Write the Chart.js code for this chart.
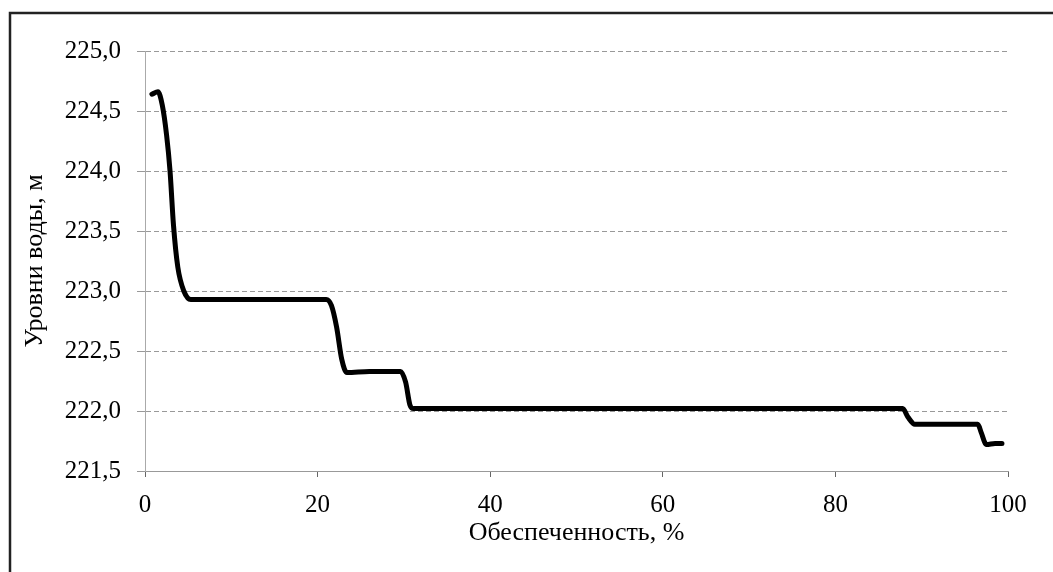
<!DOCTYPE html>
<html>
<head>
<meta charset="utf-8">
<script src="https://cdn.jsdelivr.net/npm/chart.js@4"></script>
<style>
  html, body { margin: 0; padding: 0; background: #fff; }
  #wrap { position: relative; width: 1053px; height: 572px; }
  canvas { display: block; }
</style>
</head>
<body>
<div id="wrap"><canvas id="c" width="1053" height="572"></canvas></div>
<script>
// Обеспеченность, %
const supplyPct = [0.8, 1.5, 2.0, 2.5, 2.9, 3.3, 3.8, 4.5, 5.3, 10, 15, 21.0, 21.6, 22.2, 22.8, 23.4, 26, 29.6, 30.2, 30.7, 31.1, 40, 60, 80, 87.8, 88.4, 89.2, 93, 96.5, 96.9, 97.5, 98.5, 99.3];
// Уровни воды, м
const waterLevel = [224.64, 224.66, 224.55, 224.3, 224.0, 223.55, 223.2, 223.0, 222.93, 222.93, 222.93, 222.93, 222.88, 222.7, 222.43, 222.32, 222.33, 222.33, 222.24, 222.05, 222.02, 222.02, 222.02, 222.02, 222.02, 221.95, 221.89, 221.89, 221.89, 221.82, 221.72, 221.73, 221.73];
const xTicks = [0, 20, 40, 60, 80, 100];
const yTicks = [221.5, 222.0, 222.5, 223.0, 223.5, 224.0, 224.5, 225.0];
const xTitle = 'Обеспеченность, %';
const yTitle = 'Уровни воды, м';

const points = supplyPct.map((x, i) => ({ x: x, y: waterLevel[i] }));
const FONT = "'Liberation Serif', 'Times New Roman', serif";

const framePlugin = {
  id: 'frame',
  afterDraw(chart) {
    const ctx = chart.ctx;
    ctx.save();
    ctx.strokeStyle = '#222';
    ctx.lineWidth = 2.5;
    ctx.beginPath();
    ctx.moveTo(10, 572);
    ctx.lineTo(10, 13);
    ctx.lineTo(1053, 13);
    ctx.stroke();
    ctx.restore();
  }
};

new Chart(document.getElementById('c'), {
  type: 'scatter',
  data: {
    datasets: [{
      data: points,
      showLine: true,
      borderColor: '#000',
      borderWidth: 5,
      pointRadius: 0,
      cubicInterpolationMode: 'monotone',
      borderCapStyle: 'round',
      borderJoinStyle: 'round'
    }]
  },
  options: {
    responsive: false,
    animation: false,
    layout: { padding: { left: 20, top: 51, right: 45, bottom: 21 } },
    plugins: { legend: { display: false }, tooltip: { enabled: false } },
    scales: {
      x: {
        type: 'linear',
        min: 0, max: 100,
        afterBuildTicks(scale) { scale.ticks = xTicks.map(v => ({ value: v })); },
        afterFit(scale) { scale.height = 80; },
        ticks: {
          color: '#000',
          font: { family: FONT, size: 25 },
          padding: 13,
          maxRotation: 0,
          callback: v => String(v)
        },
        grid: { drawOnChartArea: false, color: '#666', tickLength: 6, lineWidth: 1 },
        border: { display: true, color: '#999', width: 1, dash: [3, 3] },
        title: {
          display: true, text: xTitle, color: '#000',
          font: { family: FONT, size: 26 },
          padding: { top: 0, bottom: 2 }
        }
      },
      y: {
        type: 'linear',
        min: 221.5, max: 225,
        afterBuildTicks(scale) { scale.ticks = yTicks.map(v => ({ value: v })); },
        afterFit(scale) { scale.width = 125; },
        ticks: {
          color: '#000',
          font: { family: FONT, size: 25 },
          padding: 16,
          callback: v => Number(v).toFixed(1).replace('.', ',')
        },
        grid: { color: '#999', tickLength: 8, lineWidth: 1 },
        border: { display: true, color: '#aaa', width: 1, dash: [5, 3] },
        title: {
          display: true, text: yTitle, color: '#000',
          font: { family: FONT, size: 26 },
          padding: { top: 0, bottom: 0 }
        }
      }
    }
  },
  plugins: [framePlugin]
});
</script>
</body>
</html>
